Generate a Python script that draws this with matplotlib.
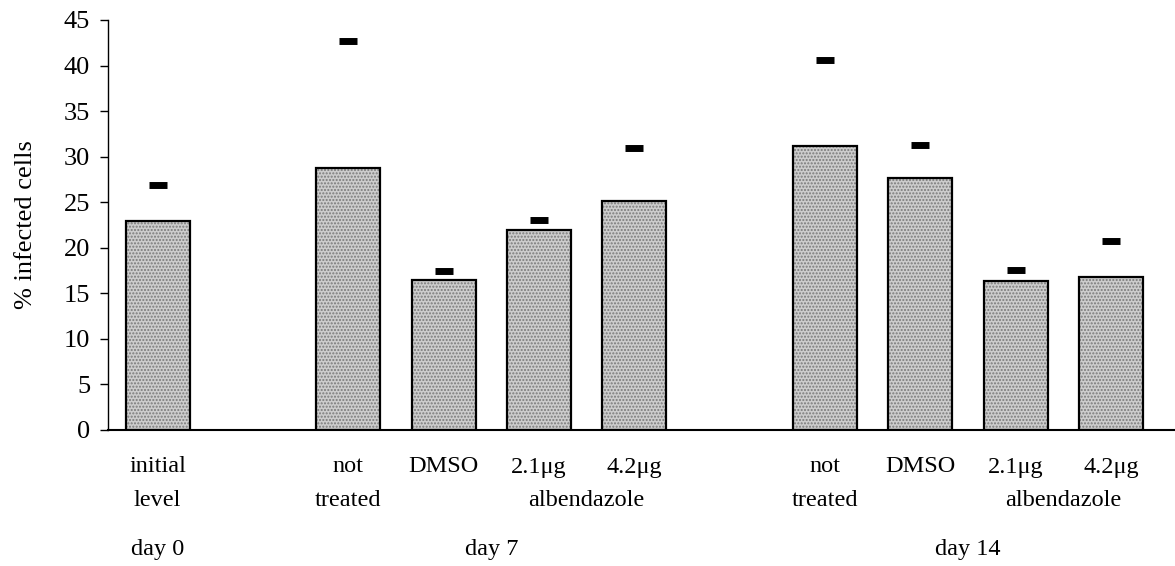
import matplotlib.pyplot as plt
from matplotlib.transforms import blended_transform_factory

plt.rcParams['font.family'] = ['Liberation Serif', 'DejaVu Serif']

# bar positions leave a gap between the day groups
positions = [0, 2, 3, 4, 5, 7, 8, 9, 10]
values = [22.9, 28.8, 16.5, 22.0, 25.1, 31.2, 27.7, 16.4, 16.8]
upper = [26.9, 42.7, 17.5, 23.0, 30.9, 40.6, 31.3, 17.6, 20.7]

line1 = ['initial', 'not', 'DMSO', '2.1\u03bcg', '4.2\u03bcg', 'not', 'DMSO', '2.1\u03bcg', '4.2\u03bcg']
line2 = ['level', 'treated', '', '', '', 'treated', '', '', '']
drug_label = 'albendazole'
drug_pos = [4.5, 9.5]
day_labels = ['day 0', 'day 7', 'day 14']
day_pos = [0, 3.5, 8.5]
yticks = [0, 5, 10, 15, 20, 25, 30, 35, 40, 45]

fig = plt.figure(figsize=(11.75, 5.66), dpi=100)
ax = fig.add_axes([0.092, 0.2403, 0.908, 0.7244])

width = 0.67
ax.bar(positions, values, width=width, color='#cdcdcd', hatch='.....',
       edgecolor='#7a7a7a', linewidth=0, zorder=2)
ax.bar(positions, values, width=width, fill=False, edgecolor='black',
       linewidth=1.6, zorder=3)
ax.plot(positions, upper, ls='none', marker='_', markersize=13,
        markeredgewidth=5, color='black', zorder=4)

ax.set_xlim(-0.52, 10.67)
ax.set_ylim(0, 45)
ax.set_yticks(yticks)
ax.set_xticks([])
ax.tick_params(axis='y', direction='out', length=6, width=1, pad=7, labelsize=19)
ax.set_ylabel('% infected cells', fontsize=19)
ax.yaxis.set_label_coords(-0.067, 0.5)

for side in ['top', 'right']:
    ax.spines[side].set_visible(False)
ax.spines['left'].set_linewidth(1)
ax.spines['bottom'].set_linewidth(1.5)

trans = blended_transform_factory(ax.transData, fig.transFigure)
for x, a, b in zip(positions, line1, line2):
    ax.text(x, 1 - 467 / 566, a, transform=trans, ha='center', va='center', fontsize=17.5)
    if b:
        ax.text(x, 1 - 500 / 566, b, transform=trans, ha='center', va='center', fontsize=17.5)
for x in drug_pos:
    ax.text(x, 1 - 500 / 566, drug_label, transform=trans, ha='center', va='center', fontsize=17.5)
for x, d in zip(day_pos, day_labels):
    ax.text(x, 1 - 550 / 566, d, transform=trans, ha='center', va='center', fontsize=17.5)

fig.savefig('out.png', dpi=100)
